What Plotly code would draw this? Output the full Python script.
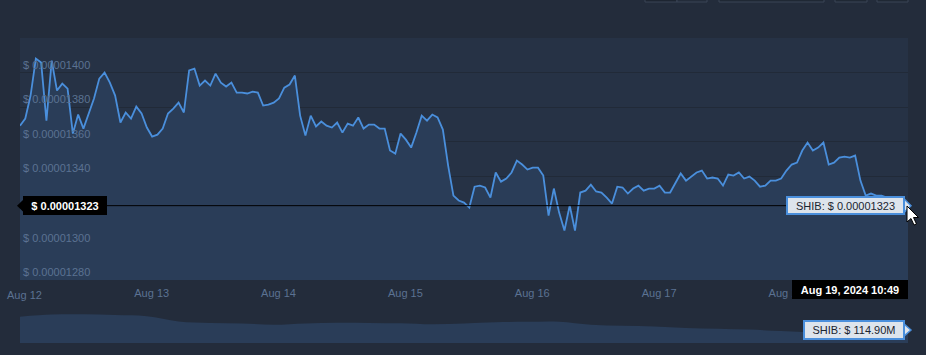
import pandas as pd
import plotly.graph_objects as go

# ---------------- data ----------------
START = "2024-08-11 23:05"
END = "2024-08-18 23:05"

# SHIB price in units of 1e-8 USD (hourly)
PRICE_E8 = [
    1369.3, 1373.4, 1386.7, 1408.1, 1405.8, 1372.2, 1406.9, 1389.6, 1393.6, 1390.7,
    1364.7, 1375.7, 1367.6, 1376.3, 1385.0, 1396.5, 1400.0, 1394.2, 1386.7, 1371.1,
    1376.9, 1373.4, 1380.3, 1376.3, 1368.2, 1363.0, 1364.1, 1367.6, 1376.3, 1379.2,
    1382.6, 1376.9, 1401.2, 1402.3, 1392.5, 1395.4, 1392.5, 1399.4, 1394.2, 1391.9,
    1394.2, 1388.4, 1388.4, 1387.9, 1389.0, 1388.4, 1380.9, 1381.5, 1382.6, 1385.0,
    1391.3, 1393.1, 1398.3, 1375.1, 1363.6, 1375.1, 1368.8, 1371.7, 1369.3, 1368.2,
    1371.1, 1365.3, 1370.5, 1369.3, 1374.0, 1367.6, 1369.9, 1369.9, 1367.6, 1367.6,
    1354.9, 1353.1, 1364.7, 1361.2, 1356.6, 1365.3, 1375.1, 1372.2, 1375.7, 1374.0,
    1367.0, 1346.2, 1328.8, 1326.0, 1324.8, 1321.9, 1334.0, 1334.6, 1333.5, 1327.7,
    1342.2, 1336.9, 1338.7, 1342.2, 1349.1, 1346.8, 1343.9, 1345.0, 1345.0, 1340.4,
    1317.3, 1332.9, 1319.0, 1308.6, 1323.1, 1308.6, 1330.6, 1331.7, 1335.2, 1331.2,
    1330.6, 1327.7, 1324.2, 1334.0, 1333.5, 1330.0, 1332.9, 1334.6, 1331.7, 1332.9,
    1332.9, 1334.6, 1330.6, 1330.6, 1336.4, 1341.6, 1337.5, 1339.8, 1342.2, 1343.3,
    1338.7, 1339.3, 1338.7, 1334.6, 1341.0, 1340.4, 1342.2, 1338.7, 1339.8, 1337.5,
    1334.0, 1334.6, 1337.5, 1337.5, 1338.7, 1343.3, 1346.8, 1347.9, 1354.9, 1359.5,
    1354.9, 1356.6, 1359.5, 1346.8, 1347.9, 1350.8, 1351.4, 1350.8, 1352.0, 1337.5,
    1328.8, 1330.0, 1328.8, 1328.8, 1327.7, 1327.1, 1326.0, 1324.2, 1323.0,
]

# 24h volume in millions USD (every 6 hours)
VOLUME_M = [
    275, 297, 300, 292, 280, 225, 210, 205, 190, 205,
    212, 210, 206, 195, 205, 218, 222, 223, 192, 180,
    172, 158, 150, 140, 125, 110, 112, 113, 114.9,
]

Y_TICKS_E8 = [1280, 1300, 1320, 1340, 1360, 1380, 1400, 1420]
Y_TICK_LABELS = ["$ 0.00001280", "$ 0.00001300", "", "$ 0.00001340",
                 "$ 0.00001360", "$ 0.00001380", "$ 0.00001400", ""]
X_TICKS = ["2024-08-12", "2024-08-13", "2024-08-14", "2024-08-15",
           "2024-08-16", "2024-08-17", "2024-08-18"]
X_TICK_LABELS = ["Aug 12", "Aug 13", "Aug 14", "Aug 15", "Aug 16", "Aug 17", "Aug 18"]

LAST_PRICE_TEXT = "$ 0.00001323"
PRICE_TAG_TEXT = "SHIB: $ 0.00001323"
DATE_TAG_TEXT = "Aug 19, 2024 10:49"
VOLUME_TAG_TEXT = "SHIB: $ 114.90M"

# ---------------- style ----------------
W, H = 926, 355
ML, MR, MT, MB = 20, 18, 38, 12
PAPER = "#232c3b"
PLOT_BG = "#263245"
FILL = "#2a3d58"
GRID = "#212a38"
LINE = "#4a8fdc"
TICK_COLOR = "#5b7292"
FONT = "Liberation Sans, Arial, sans-serif"

PW = W - ML - MR
PH = H - MT - MB
PRICE_BOTTOM_PX = 280
VOL_TOP_PX = 310


def pxx(x):
    return (x - ML) / PW


def pxy(y):
    return (H - MB - y) / PH


price = [v * 1e-8 for v in PRICE_E8]
times = pd.date_range(START, END, periods=len(price))
vol_times = pd.date_range(START, END, periods=len(VOLUME_M))
last_price = price[-1]

fig = go.Figure()
fig.add_trace(go.Scatter(
    x=times, y=price, mode="lines", line=dict(color=LINE, width=1.8),
    fill="tozeroy", fillcolor=FILL, xaxis="x", yaxis="y", hoverinfo="skip"))
fig.add_trace(go.Scatter(
    x=vol_times, y=VOLUME_M, mode="lines", line=dict(color=FILL, width=0, shape="spline"),
    fill="tozeroy", fillcolor=FILL, xaxis="x2", yaxis="y2", hoverinfo="skip"))

fig.update_layout(
    width=W, height=H,
    margin=dict(l=ML, r=MR, t=MT, b=MB, autoexpand=False),
    paper_bgcolor=PAPER, plot_bgcolor=PAPER,
    showlegend=False,
    font=dict(family=FONT, size=11, color=TICK_COLOR),
    xaxis=dict(domain=[0, 1], anchor="y", range=[START, END], automargin=False,
               tickvals=X_TICKS[1:], ticktext=X_TICK_LABELS[1:],
               showgrid=False, zeroline=False, showline=False,
               ticks="outside", ticklen=3, tickcolor="rgba(0,0,0,0)",
               tickfont=dict(family=FONT, size=11, color=TICK_COLOR)),
    yaxis=dict(domain=[pxy(PRICE_BOTTOM_PX), 1], anchor="x", automargin=False,
               range=[Y_TICKS_E8[0] * 1e-8, Y_TICKS_E8[-1] * 1e-8],
               tickvals=[v * 1e-8 for v in Y_TICKS_E8],
               ticktext=Y_TICK_LABELS,
               ticklabelposition="inside top",
               showgrid=True, gridcolor=GRID, gridwidth=1,
               zeroline=False, showline=False,
               tickfont=dict(family=FONT, size=11, color=TICK_COLOR)),
    xaxis2=dict(domain=[0, 1], anchor="y2", range=[START, END], visible=False),
    yaxis2=dict(domain=[0, pxy(VOL_TOP_PX)], anchor="x2", range=[0, 345], visible=False),
)

shapes = []
# price plot background
shapes.append(dict(type="rect", xref="x domain", yref="y domain", x0=0, x1=1, y0=0, y1=1,
                   fillcolor=PLOT_BG, line=dict(width=0), layer="below"))
# current price line
shapes.append(dict(type="line", xref="paper", yref="y", x0=0, x1=1,
                   y0=last_price, y1=last_price, line=dict(color="#000000", width=1)))
# left tag pointer
dy = 3.6 * 1e-8
shapes.append(dict(type="path", xref="paper", yref="y",
                   path=f"M {pxx(17)},{last_price} L {pxx(23.5)},{last_price + dy} L {pxx(23.5)},{last_price - dy} Z",
                   fillcolor="#000000", line=dict(width=0)))
# right price tag pointer
shapes.append(dict(type="path", xref="paper", yref="y",
                   path=f"M {pxx(911)},{last_price} L {pxx(904)},{last_price + dy * 1.1} L {pxx(904)},{last_price - dy * 1.1} Z",
                   fillcolor="#dde4ec", line=dict(color=LINE, width=1.5)))
# right volume tag pointer
shapes.append(dict(type="path", xref="paper", yref="paper",
                   path=f"M {pxx(911)},{pxy(330)} L {pxx(904)},{pxy(324)} L {pxx(904)},{pxy(336)} Z",
                   fillcolor="#dde4ec", line=dict(color=LINE, width=1.5)))
# top toolbar buttons (only their bottoms are visible)
for x0, x1, fc in [(645, 677, "#1d2531"), (677, 707, "#232c3a"), (719, 824, "#1f2834"),
                   (835, 867, "#1f2834"), (877, 908, "#1f2834")]:
    shapes.append(dict(type="rect", xref="paper", yref="paper", x0=pxx(x0), x1=pxx(x1),
                       y0=pxy(2), y1=pxy(-10), fillcolor=fc, line=dict(color="#3a4557", width=1)))
# mouse cursor
cur = [(907, 206), (907, 222), (911, 218.5), (914, 225), (916.5, 224), (913.5, 217.5), (918.5, 217.5)]
path = "M " + " L ".join(f"{pxx(a)},{pxy(b)}" for a, b in cur) + " Z"
shapes.append(dict(type="path", xref="paper", yref="paper", path=path,
                   fillcolor="#ffffff", line=dict(color="#000000", width=1)))
fig.update_layout(shapes=shapes)

annotations = [
    # first date label (plotly hides it at the very edge, so place it explicitly)
    dict(xref="x", yref="paper", x=X_TICKS[0], y=pxy(294.5), xanchor="center", yanchor="middle",
         text=X_TICK_LABELS[0], showarrow=False,
         font=dict(family=FONT, size=11, color=TICK_COLOR)),
    dict(xref="paper", yref="y", x=pxx(23), y=last_price, xanchor="left", yanchor="middle",
         text=f"<b>{LAST_PRICE_TEXT}</b>", showarrow=False,
         font=dict(family=FONT, size=11, color="#ffffff"),
         bgcolor="#000000", bordercolor="#000000", borderwidth=1, borderpad=2,
         width=78, height=13, align="center"),
    dict(xref="paper", yref="y", x=pxx(905), y=last_price, xanchor="right", yanchor="middle",
         text=PRICE_TAG_TEXT, showarrow=False,
         font=dict(family=FONT, size=11, color="#1b2430"),
         bgcolor="#dde4ec", bordercolor=LINE, borderwidth=2, borderpad=1,
         width=113, height=13, align="center"),
    dict(xref="paper", yref="paper", x=1, y=pxy(PRICE_BOTTOM_PX), xanchor="right", yanchor="top",
         text=f"<b>{DATE_TAG_TEXT}</b>", showarrow=False,
         font=dict(family=FONT, size=11, color="#ffffff"),
         bgcolor="#000000", bordercolor="#000000", borderwidth=1, borderpad=2,
         width=110, height=13, align="center"),
    dict(xref="paper", yref="paper", x=pxx(905), y=pxy(330), xanchor="right", yanchor="middle",
         text=VOLUME_TAG_TEXT, showarrow=False,
         font=dict(family=FONT, size=11, color="#1b2430"),
         bgcolor="#dde4ec", bordercolor=LINE, borderwidth=2, borderpad=1,
         width=96, height=14, align="center"),
]
fig.update_layout(annotations=annotations)

fig.write_html("out.html")
